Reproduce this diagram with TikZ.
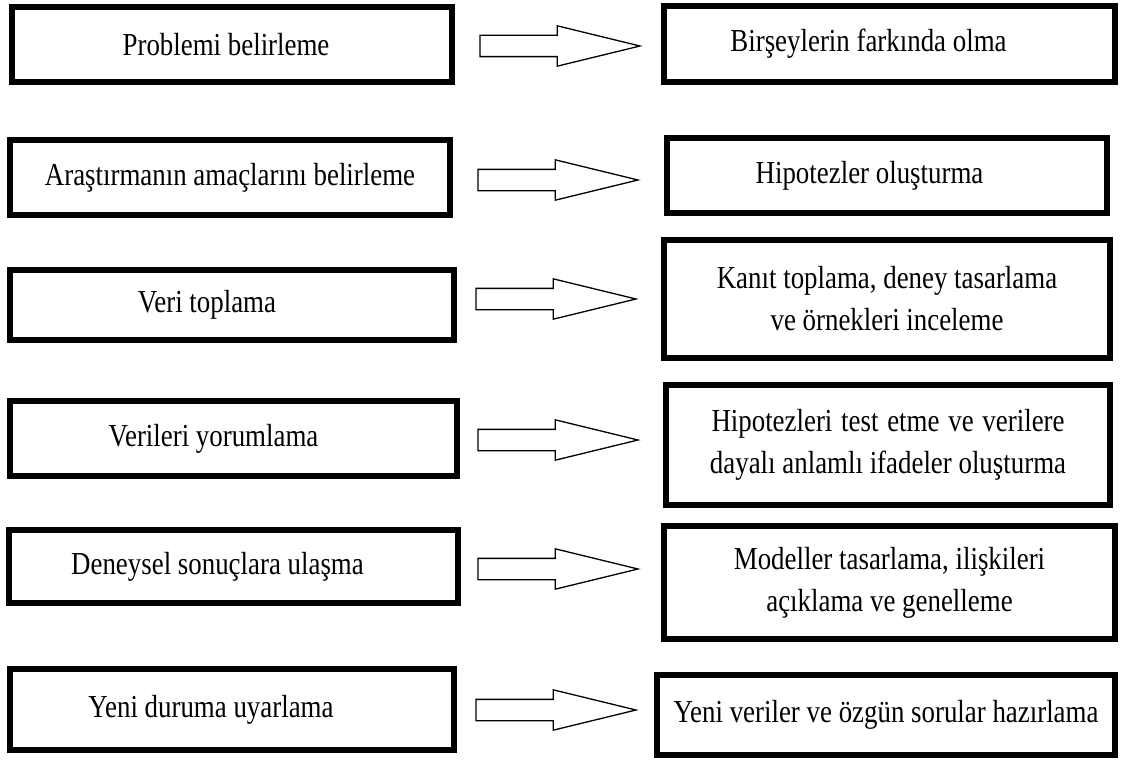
\documentclass[tikz,border=0pt]{standalone}
\usepackage{fontspec}
\setmainfont{Liberation Serif}[FakeStretch=0.84]
\usetikzlibrary{shapes.arrows}
\begin{document}
\begin{tikzpicture}[x=1pt, y=-1pt,
  box/.style={draw, line width=6pt, inner sep=0pt, outer sep=0pt, align=center, font=\fontsize{32}{42}\selectfont},
  bigarrow/.style={draw, fill=white, line width=1.3pt, single arrow, single arrow head extend=9.5pt, single arrow tip angle=27.4, minimum height=160pt, minimum width=39pt, text height=10pt, text depth=10pt, inner sep=0pt, outer sep=0pt, anchor=tail}]
\useasboundingbox (0,0) rectangle (1121,760);
% left column
\node[box, minimum width=440pt, minimum height=75pt] (prob) at (232,44.5) {Problemi belirleme\hspace*{12pt}};
\node[box, minimum width=440pt, minimum height=75pt] (amac) at (230,177.5) {Araştırmanın amaçlarını belirleme};
\node[box, minimum width=444pt, minimum height=70pt] (veri) at (232,305) {Veri toplama\hspace*{50pt}};
\node[box, minimum width=447pt, minimum height=75pt] (yorum) at (233.5,438.5) {Verileri yorumlama\hspace*{40pt}};
\node[box, minimum width=449pt, minimum height=73pt] (sonuc) at (233.5,566.5) {Deneysel sonuçlara ulaşma\hspace*{32pt}};
\node[box, minimum width=444pt, minimum height=81pt] (uyar) at (232,709.5) {Yeni duruma uyarlama\hspace*{42pt}};
% right column
\node[box, minimum width=451pt, minimum height=76pt] (fark) at (889.5,44) {Birşeylerin farkında olma\hspace*{42pt}};
\node[box, minimum width=440pt, minimum height=75pt] (hipo) at (887,175.5) {Hipotezler oluşturma\hspace*{35pt}};
\node[box, minimum width=446pt, minimum height=118pt] (kanit) at (887,299) {Kanıt toplama, deney tasarlama\\ve örnekleri inceleme};
\node[box, minimum width=444pt, minimum height=120pt] (test) at (888,445) {\makebox[353pt][s]{Hipotezleri test etme ve verilere}\\dayalı anlamlı ifadeler oluşturma};
\node[box, minimum width=451pt, minimum height=113pt] (model) at (889.5,582.5) {Modeller tasarlama, ilişkileri\\açıklama ve genelleme};
\node[box, minimum width=458pt, minimum height=80pt] (yeni) at (886,715) {Yeni veriler ve özgün sorular hazırlama};
% arrows
\node[bigarrow] (a1) at (480,46) {};
\node[bigarrow] (a2) at (478,180) {};
\node[bigarrow] (a3) at (476,299) {};
\node[bigarrow] (a4) at (478,440) {};
\node[bigarrow] (a5) at (478,569) {};
\node[bigarrow] (a6) at (476,710) {};
\end{tikzpicture}
\end{document}
